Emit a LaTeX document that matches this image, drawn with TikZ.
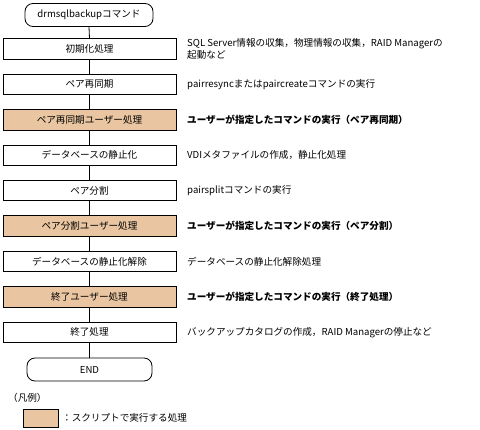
\documentclass[tikz,border=0pt]{standalone}
\usepackage{fontspec}
\setmainfont{Noto Sans CJK JP}
\usetikzlibrary{positioning}
\definecolor{peach}{RGB}{233,198,161}
\begin{document}
\begin{tikzpicture}[x=1pt,y=-1pt,
  every node/.style={font=\fontsize{9.6}{12}\selectfont, inner sep=0pt},
  procbox/.style={draw=black, line width=0.8pt, minimum width=173pt, minimum height=20.5pt, fill=white},
  userbox/.style={procbox, fill=peach},
  termbox/.style={draw=black, line width=0.8pt, rounded corners=8pt, minimum height=23pt},
  desc/.style={anchor=west, align=left},
  bdesc/.style={desc, font=\fontsize{9.6}{12}\selectfont\bfseries},
  conn/.style={draw=black, line width=0.8pt}]
\useasboundingbox (0,0) rectangle (480,430);
\node[termbox, minimum width=128pt] (start) at (89,15) {drmsqlbackupコマンド};
\node[procbox] (b1) at (89.5,49) {初期化処理};
\node[procbox] (b2) at (89.5,84.4) {ペア再同期};
\node[userbox] (b3) at (89.5,119.8) {ペア再同期ユーザー処理};
\node[procbox] (b4) at (89.5,155.2) {データベースの静止化};
\node[procbox] (b5) at (89.5,190.6) {ペア分割};
\node[userbox] (b6) at (89.5,226) {ペア分割ユーザー処理};
\node[procbox] (b7) at (89.5,261.4) {データベースの静止化解除};
\node[userbox] (b8) at (89.5,296.8) {終了ユーザー処理};
\node[procbox] (b9) at (89.5,332.2) {終了処理};
\node[termbox, minimum width=125pt] (end) at (89.5,369.5) {END};
\foreach \a/\b in {start/b1,b1/b2,b2/b3,b3/b4,b4/b5,b5/b6,b6/b7,b7/b8,b8/b9,b9/end}
  \draw[conn] (\a.south) -- (\b.north);
\node[desc] (d1) at (187,49) {SQL Server情報の収集，物理情報の収集，RAID Managerの\\起動など};
\node[desc] (d2) at (187,84.4) {pairresyncまたはpaircreateコマンドの実行};
\node[bdesc] (d3) at (187,119.8) {ユーザーが指定したコマンドの実行（ペア再同期）};
\node[desc] (d4) at (187,155.2) {VDIメタファイルの作成，静止化処理};
\node[desc] (d5) at (187,190.6) {pairsplitコマンドの実行};
\node[bdesc] (d6) at (187,226) {ユーザーが指定したコマンドの実行（ペア分割）};
\node[desc] (d7) at (187,261.4) {データベースの静止化解除処理};
\node[bdesc] (d8) at (187,296.8) {ユーザーが指定したコマンドの実行（終了処理）};
\node[desc] (d9) at (187,332.2) {バックアップカタログの作成，RAID Managerの停止など};
\node[desc] (lgtitle) at (8,398) {（凡例）};
\node[draw=black, line width=0.8pt, fill=peach, minimum width=35pt, minimum height=18pt] (lgbox) at (40.5,418) {};
\node[desc] (lgtext) at (62,418) {：スクリプトで実行する処理};
\end{tikzpicture}
\end{document}
